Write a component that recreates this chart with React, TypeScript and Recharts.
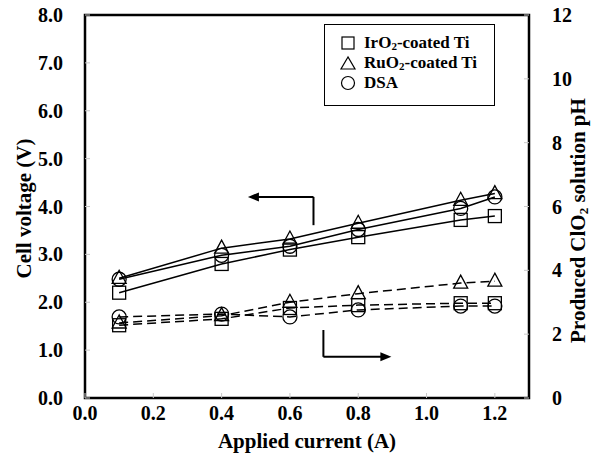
import React from 'react';
import { LineChart, Line, XAxis, YAxis, Legend, Label, ReferenceArea, ReferenceLine, ReferenceDot } from 'recharts';

const currents = [0.1, 0.4, 0.6, 0.8, 1.1, 1.2];
const voltIrO2 = [2.2, 2.8, 3.1, 3.36, 3.72, 3.8];
const voltRuO2 = [2.5, 3.13, 3.32, 3.65, 4.13, 4.27];
const voltDSA = [2.48, 2.98, 3.17, 3.52, 3.96, 4.2];
const phIrO2 = [2.28, 2.48, 2.82, 2.91, 2.97, 2.97];
const phRuO2 = [2.35, 2.58, 3.0, 3.27, 3.6, 3.66];
const phDSA = [2.54, 2.63, 2.54, 2.76, 2.88, 2.88];

const xTicks = [0, 0.2, 0.4, 0.6, 0.8, 1.0, 1.2];
const voltTicks = [0, 1, 2, 3, 4, 5, 6, 7, 8];
const phTicks = [0, 2, 4, 6, 8, 10, 12];

const data = currents.map((c, i) => ({
  current: c,
  vIr: voltIrO2[i],
  vRu: voltRuO2[i],
  vDsa: voltDSA[i],
  pIr: phIrO2[i],
  pRu: phRuO2[i],
  pDsa: phDSA[i],
}));

const FONT = '"Liberation Serif", "Times New Roman", serif';
const tickStyle = { fontFamily: FONT, fontWeight: 'bold', fontSize: 20, fill: '#000' };
const titleStyle = { fontFamily: FONT, fontWeight: 'bold', fontSize: 21, fill: '#000' };

const square = (p: any) => (
  <rect key={`s-${p.index}-${p.dataKey}`} x={p.cx - 6.5} y={p.cy - 6.5} width={13} height={13} fill="none" stroke="#000" strokeWidth={1.3} />
);
const triangle = (p: any) => (
  <polygon
    key={`t-${p.index}-${p.dataKey}`}
    points={`${p.cx},${p.cy - 8} ${p.cx - 7},${p.cy + 5} ${p.cx + 7},${p.cy + 5}`}
    fill="none"
    stroke="#000"
    strokeWidth={1.3}
  />
);
const circle = (p: any) => (
  <circle key={`c-${p.index}-${p.dataKey}`} cx={p.cx} cy={p.cy} r={7} fill="none" stroke="#000" strokeWidth={1.3} />
);

const arrowLeft = (p: any) => (
  <polygon points={`${p.cx},${p.cy} ${p.cx + 11},${p.cy - 4.5} ${p.cx + 11},${p.cy + 4.5}`} fill="#000" />
);
const arrowRight = (p: any) => (
  <polygon points={`${p.cx},${p.cy} ${p.cx - 11},${p.cy - 4.5} ${p.cx - 11},${p.cy + 4.5}`} fill="#000" />
);

const legendItems = [
  { name: 'IrO', sub: '2', rest: '-coated Ti', shape: 'square' },
  { name: 'RuO', sub: '2', rest: '-coated Ti', shape: 'triangle' },
  { name: 'DSA', sub: '', rest: '', shape: 'circle' },
];

const LegendBox = () => (
  <div style={{ border: '1.5px solid #000', background: '#fff', width: 171, height: 82, boxSizing: 'border-box', padding: '8px 0 0 14px' }}>
    {legendItems.map((it) => (
      <div key={it.name} style={{ display: 'flex', alignItems: 'center', height: 20, lineHeight: '16px' }}>
        <svg width={20} height={18} style={{ marginRight: 5 }}>
          {it.shape === 'square' && <rect x={3} y={3} width={12} height={12} fill="none" stroke="#000" strokeWidth={1.2} />}
          {it.shape === 'triangle' && <polygon points="9,3 2,15 16,15" fill="none" stroke="#000" strokeWidth={1.2} />}
          {it.shape === 'circle' && <circle cx={9} cy={9} r={6.5} fill="none" stroke="#000" strokeWidth={1.2} />}
        </svg>
        <span style={{ fontFamily: FONT, fontWeight: 'bold', fontSize: 17, color: '#000', whiteSpace: 'nowrap', lineHeight: '16px' }}>
          {it.name}
          {it.sub && <span style={{ fontSize: 11, lineHeight: '10px', position: 'relative', top: 2 }}>{it.sub}</span>}
          {it.rest}
        </span>
      </div>
    ))}
  </div>
);

const LeftTitle = (props: any) => {
  const { viewBox } = props;
  const cx = 24;
  const cy = viewBox.y + viewBox.height / 2 + 2;
  return (
    <text x={cx} y={cy} transform={`rotate(-90, ${cx}, ${cy})`} textAnchor="middle" dominantBaseline="central" style={titleStyle}>
      Cell voltage (V)
    </text>
  );
};

const RightTitle = (props: any) => {
  const { viewBox } = props;
  const cx = viewBox.x + 49;
  const cy = viewBox.y + viewBox.height / 2 + 14;
  return (
    <text x={cx} y={cy} transform={`rotate(-90, ${cx}, ${cy})`} textAnchor="middle" dominantBaseline="central" style={titleStyle}>
      Produced ClO<tspan fontSize={13} dy={5}>2</tspan><tspan dy={-5}> solution pH</tspan>
    </text>
  );
};

export default function App() {
  return (
    <div style={{ position: 'absolute', left: 0, top: 0, background: '#fff' }}>
      <LineChart width={597} height={468} data={data} margin={{ top: 15, right: 0, bottom: 0, left: 0 }}>
        <XAxis
          dataKey="current"
          type="number"
          domain={[0, 1.3]}
          ticks={xTicks}
          tickFormatter={(v: number) => v.toFixed(1)}
          tick={tickStyle}
          tickSize={-5}
          tickMargin={13}
          tickLine={{ stroke: '#c8c8c8' }}
          axisLine={false}
          height={70}
        >
          <Label value="Applied current (A)" position="insideBottom" offset={20} style={titleStyle} />
        </XAxis>
        <YAxis
          yAxisId="v"
          type="number"
          domain={[0, 8]}
          ticks={voltTicks}
          tickFormatter={(v: number) => v.toFixed(1)}
          tick={tickStyle}
          tickSize={-5}
          tickMargin={27}
          tickLine={{ stroke: '#c8c8c8' }}
          axisLine={false}
          width={85}
        >
          <Label content={LeftTitle} />
        </YAxis>
        <YAxis
          yAxisId="ph"
          orientation="right"
          type="number"
          domain={[0, 12]}
          ticks={phTicks}
          tick={{ ...tickStyle, textAnchor: 'start' }}
          tickSize={-5}
          tickMargin={28}
          tickLine={{ stroke: '#c8c8c8' }}
          axisLine={false}
          width={68}
        >
          <Label content={RightTitle} />
        </YAxis>
        <ReferenceArea yAxisId="v" x1={0} x2={1.3} y1={0} y2={8} fill="none" stroke="#000" strokeWidth={2.5} ifOverflow="visible" />

        <ReferenceLine yAxisId="v" segment={[{ x: 0.49, y: 4.2 }, { x: 0.669, y: 4.2 }]} stroke="#000" strokeWidth={2} />
        <ReferenceLine yAxisId="v" segment={[{ x: 0.669, y: 4.2 }, { x: 0.669, y: 3.61 }]} stroke="#000" strokeWidth={2} />
        <ReferenceDot yAxisId="v" x={0.477} y={4.2} shape={arrowLeft} />
        <ReferenceLine yAxisId="v" segment={[{ x: 0.698, y: 1.42 }, { x: 0.698, y: 0.86 }]} stroke="#000" strokeWidth={2} />
        <ReferenceLine yAxisId="v" segment={[{ x: 0.698, y: 0.86 }, { x: 0.885, y: 0.86 }]} stroke="#000" strokeWidth={2} />
        <ReferenceDot yAxisId="v" x={0.897} y={0.86} shape={arrowRight} />

        <Line yAxisId="v" dataKey="vIr" stroke="#000" strokeWidth={1.5} dot={square} activeDot={false} isAnimationActive={false} />
        <Line yAxisId="v" dataKey="vRu" stroke="#000" strokeWidth={1.5} dot={triangle} activeDot={false} isAnimationActive={false} />
        <Line yAxisId="v" dataKey="vDsa" stroke="#000" strokeWidth={1.5} dot={circle} activeDot={false} isAnimationActive={false} />
        <Line yAxisId="ph" dataKey="pIr" stroke="#000" strokeWidth={1.5} strokeDasharray="9 5" dot={square} activeDot={false} isAnimationActive={false} />
        <Line yAxisId="ph" dataKey="pRu" stroke="#000" strokeWidth={1.5} strokeDasharray="9 5" dot={triangle} activeDot={false} isAnimationActive={false} />
        <Line yAxisId="ph" dataKey="pDsa" stroke="#000" strokeWidth={1.5} strokeDasharray="9 5" dot={circle} activeDot={false} isAnimationActive={false} />

        <Legend
          layout="horizontal"
          verticalAlign="middle"
          align="center"
          content={LegendBox}
          wrapperStyle={{ position: 'absolute', left: 324, top: 24, width: 171, height: 82 }}
        />
      </LineChart>
    </div>
  );
}
